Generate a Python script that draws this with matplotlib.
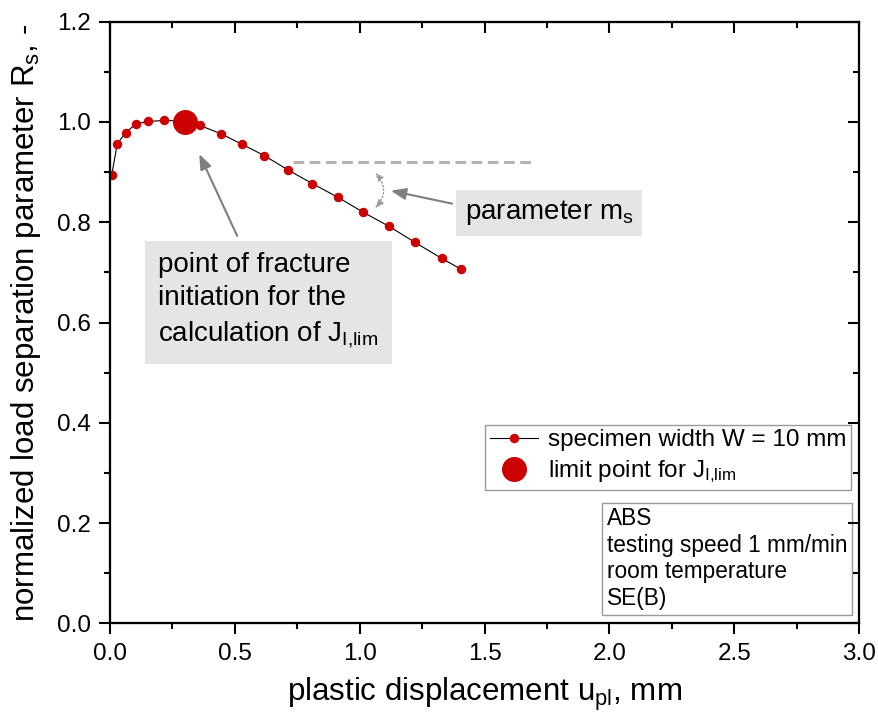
import matplotlib
matplotlib.use("Agg")
import matplotlib.pyplot as plt
from matplotlib.ticker import MultipleLocator, FormatStrFormatter

plt.rcParams['font.family'] = ['Liberation Sans', 'DejaVu Sans']
plt.rcParams['mathtext.fontset'] = 'custom'
plt.rcParams['mathtext.rm'] = 'Liberation Sans'
plt.rcParams['mathtext.it'] = 'Liberation Sans:italic'

# Measured curve: plastic displacement (mm) vs normalized load separation parameter
u_pl = [0.007, 0.029, 0.063, 0.104, 0.153, 0.215, 0.290, 0.360, 0.443, 0.527,
        0.618, 0.714, 0.811, 0.912, 1.014, 1.117, 1.221, 1.328, 1.404]
r_s = [0.894, 0.956, 0.979, 0.996, 1.001, 1.003, 1.002, 0.993, 0.977, 0.956,
       0.933, 0.904, 0.877, 0.850, 0.820, 0.792, 0.760, 0.728, 0.707]

# Limit point used for J_I,lim
limit_u = [0.30]
limit_r = [1.00]

# Horizontal reference line for the slope m_s
ref_u = [0.735, 1.69]
ref_r = [0.920, 0.920]

info_lines = ["ABS", "testing speed 1 mm/min", "room temperature", "SE(B)"]

red = '#cc0000'
grey_arrow = '#7f7f7f'

fig = plt.figure(figsize=(8.79, 7.24), dpi=100)
ax = fig.add_axes([0.1251, 0.1391, 0.8522, 0.8309])

ax.plot(ref_u, ref_r, color='#b4b4b4', lw=2.2, ls=(0, (3.5, 1.8)), zorder=1)
ax.plot(u_pl, r_s, color='black', lw=0.8, marker='o', ms=5.8,
        mfc=red, mec=red, label='specimen width W = 10 mm', zorder=3)
ax.plot(limit_u, limit_r, ls='none', marker='o', ms=17, mfc=red, mec=red,
        label=r'limit point for J$_\mathregular{I{,}lim}$', zorder=4)

ax.set_xlim(0, 3.0)
ax.set_ylim(0, 1.2)
ax.xaxis.set_major_locator(MultipleLocator(0.5))
ax.xaxis.set_minor_locator(MultipleLocator(0.25))
ax.yaxis.set_major_locator(MultipleLocator(0.2))
ax.yaxis.set_minor_locator(MultipleLocator(0.1))
ax.xaxis.set_major_formatter(FormatStrFormatter('%.1f'))
ax.yaxis.set_major_formatter(FormatStrFormatter('%.1f'))
ax.tick_params(which='major', direction='out', length=8, width=1.5,
               labelsize=17.5, pad=6)
ax.tick_params(which='minor', direction='out', length=4, width=1.5)
for sp in ax.spines.values():
    sp.set_linewidth(1.5)

# inward ticks on the top and right edges
axt = ax.twiny()
axr = ax.twinx()
axt.set_xlim(ax.get_xlim())
axr.set_ylim(ax.get_ylim())
axt.xaxis.set_major_locator(MultipleLocator(0.5))
axt.xaxis.set_minor_locator(MultipleLocator(0.25))
axr.yaxis.set_major_locator(MultipleLocator(0.2))
axr.yaxis.set_minor_locator(MultipleLocator(0.1))
for a in (axt, axr):
    a.tick_params(which='major', direction='in', length=8, width=1.5,
                  labeltop=False, labelright=False)
    a.tick_params(which='minor', direction='in', length=4, width=1.5)
    for sp in a.spines.values():
        sp.set_linewidth(1.5)

ax.set_xlabel(r'plastic displacement u$_\mathregular{pl}$, mm', fontsize=22.5, labelpad=8)
ax.set_ylabel(r'normalized load separation parameter R$_\mathregular{s}$, -',
              fontsize=22.5, labelpad=10)

# annotations
ax.annotate('', xy=(0.353, 0.941), xytext=(0.514, 0.768),
            arrowprops=dict(arrowstyle='-|>,head_length=0.9,head_width=0.35',
                            color=grey_arrow, lw=1.5), zorder=5)
ax.text(0.635, 0.643,
        "point of fracture\ninitiation for the\ncalculation of J$_\\mathregular{I{,}lim}$",
        fontsize=20, ha='center', va='center', multialignment='left',
        linespacing=1.38,
        bbox=dict(boxstyle='square,pad=0.48', fc='#e5e5e5', ec='none'), zorder=6)

ax.annotate('', xy=(1.114, 0.864), xytext=(1.381, 0.836),
            arrowprops=dict(arrowstyle='-|>,head_length=0.9,head_width=0.35',
                            color=grey_arrow, lw=1.5), zorder=5)
ax.annotate('', xy=(1.054, 0.903), xytext=(1.054, 0.824),
            arrowprops=dict(arrowstyle='<|-|>,head_length=0.5,head_width=0.2',
                            color='#999999', lw=1.0, ls=':',
                            connectionstyle='arc3,rad=0.5'), zorder=5)
ax.text(1.759, 0.819, r'parameter m$_\mathregular{s}$', fontsize=20,
        ha='center', va='center',
        bbox=dict(boxstyle='square,pad=0.3', fc='#e5e5e5', ec='none'), zorder=6)

leg = ax.legend(loc='upper right', bbox_to_anchor=(0.989, 0.33), borderaxespad=0,
                fontsize=17.5, numpoints=1, handlelength=2.0, handletextpad=0.4,
                borderpad=0.18, labelspacing=0.3, fancybox=False,
                edgecolor='#999999', framealpha=1)
leg.get_frame().set_linewidth(1.0)

ax.text(2.472, 0.129, "\n".join(info_lines), fontsize=16.3, ha='center',
        va='center', multialignment='left', linespacing=1.2,
        bbox=dict(boxstyle='square,pad=0.2', fc='white', ec='#999999', lw=1.0),
        zorder=6)

fig.savefig('out.png', dpi=100)
